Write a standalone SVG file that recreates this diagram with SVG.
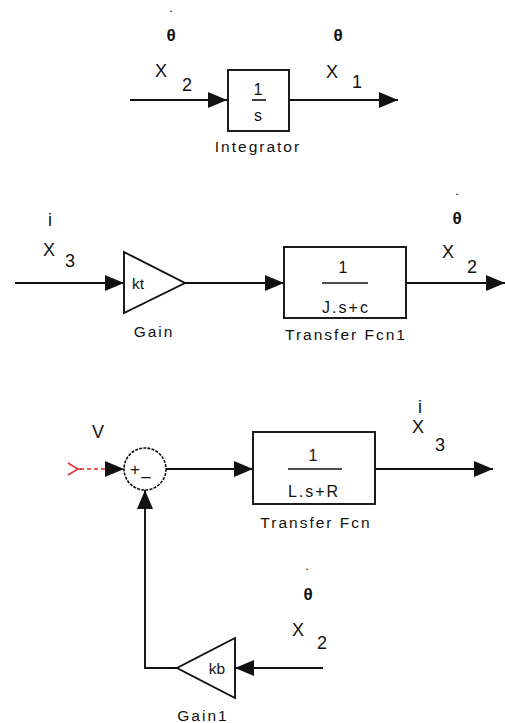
<svg xmlns="http://www.w3.org/2000/svg" width="505" height="723" viewBox="0 0 505 723">
<style>
text{font-family:"Liberation Sans",Arial,sans-serif;fill:#111}
.blk{fill:#fff;stroke:#111;stroke-width:1.9}
.lbl{font-size:15.5px;letter-spacing:2px;text-anchor:middle}
.in{font-size:16px;letter-spacing:2px;text-anchor:middle}
.sig{font-size:18px;text-anchor:middle}
.sub{font-size:18px;text-anchor:middle}
.th{font-size:17px;text-anchor:middle;font-weight:bold}
.dot{font-size:9px;text-anchor:middle;font-weight:bold}
.frac{stroke:#111;stroke-width:1.6}
.wire{fill:none;stroke:#111;stroke-width:1.9;marker-end:url(#arr)}
</style>
<defs>
<marker id="arr" markerUnits="userSpaceOnUse" markerWidth="20" markerHeight="18" refX="19" refY="9" orient="auto">
<path d="M0,1 L19,9 L0,17 z" fill="#111"/>
</marker>
</defs>
<rect width="505" height="723" fill="#fff"/>

<g id="connectors">
<path class="wire" d="M130,100 H227"/>
<path class="wire" d="M289,100 H398"/>
<path class="wire" d="M15,283 H124"/>
<path class="wire" d="M185,283 H284"/>
<path class="wire" d="M406,283 H505"/>
<path d="M80,469 H124" fill="none" stroke="#e03030" stroke-width="1.6" stroke-dasharray="4,3" marker-end="url(#arr)"/>
<path class="wire" d="M166,469 H253"/>
<path class="wire" d="M375,469 H493"/>
<path class="wire" d="M323,668 H235"/>
<path class="wire" d="M177,668 H145 V490"/>
</g>

<g id="signal-labels">
<text class="dot" x="171" y="12">.</text>
<text class="th" x="171" y="41">θ</text>
<text class="sig" x="161" y="77">X</text>
<text class="sub" x="187" y="91">2</text>
<text class="th" x="338" y="41">θ</text>
<text class="sig" x="332" y="78">X</text>
<text class="sub" x="357" y="88">1</text>

<text class="sig" x="50" y="226">i</text>
<text class="sig" x="49" y="256">X</text>
<text class="sub" x="70" y="267">3</text>
<text class="dot" x="457" y="195">.</text>
<text class="th" x="457" y="224">θ</text>
<text class="sig" x="448" y="258">X</text>
<text class="sub" x="472" y="273">2</text>

<text class="sig" x="98" y="438">V</text>
<text class="sig" x="420" y="413">i</text>
<text class="sig" x="418" y="433">X</text>
<text class="sub" x="440" y="451">3</text>

<text class="dot" x="307" y="570">.</text>
<text class="th" x="308" y="600">θ</text>
<text class="sig" x="298" y="636">X</text>
<text class="sub" x="322" y="649">2</text>
</g>

<g id="input-V">
<path d="M68,463 L78,469 L68,475 M78,469 H82" fill="none" stroke="#e03030" stroke-width="1.5"/>
</g>

<g id="Integrator">
<rect class="blk" x="228" y="70" width="61" height="61"/>
<text class="in" x="259" y="95">1</text>
<line class="frac" x1="252" y1="100" x2="266" y2="100"/>
<text class="in" x="259" y="121">s</text>
<text class="lbl" x="258" y="152">Integrator</text>
</g>

<g id="Gain">
<polygon class="blk" points="124,252 185,283 124,313"/>
<text x="138" y="289" font-size="15.5" text-anchor="middle">kt</text>
<text class="lbl" x="154" y="337">Gain</text>
</g>

<g id="TransferFcn1">
<rect class="blk" x="284" y="247" width="122" height="71"/>
<text class="in" x="344" y="273">1</text>
<line class="frac" x1="322" y1="283" x2="368" y2="283"/>
<text class="in" x="346" y="313">J.s+c</text>
<text class="lbl" x="346" y="340">Transfer Fcn1</text>
</g>

<g id="Sum">
<circle cx="145" cy="469" r="21" fill="#fff" stroke="#111" stroke-width="1.6" stroke-dasharray="3,1.2"/>
<text x="135" y="475" font-size="17" text-anchor="middle">+</text>
<text x="146" y="482" font-size="17" text-anchor="middle">–</text>
</g>

<g id="TransferFcn">
<rect class="blk" x="253" y="432" width="122" height="72"/>
<text class="in" x="314" y="461">1</text>
<line class="frac" x1="288" y1="469" x2="342" y2="469"/>
<text class="in" x="314" y="497">L.s+R</text>
<text class="lbl" x="316" y="528">Transfer Fcn</text>
</g>

<g id="Gain1">
<polygon class="blk" points="235,638 177,668 235,698"/>
<text x="217" y="674" font-size="15.5" text-anchor="middle">kb</text>
<text class="lbl" x="203" y="721">Gain1</text>
</g>
</svg>
